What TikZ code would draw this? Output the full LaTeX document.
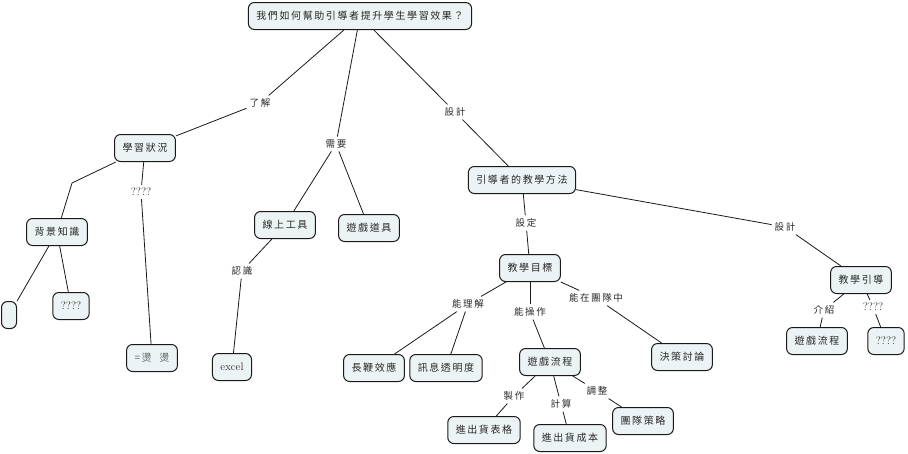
\documentclass[tikz,border=0pt]{standalone}
\usepackage{fontspec}
\usepackage{xcolor}
\newfontfamily\cjk[LetterSpace=16]{Noto Sans CJK TC}
\definecolor{cmapfill}{RGB}{236,243,245}
\definecolor{cmapline}{RGB}{25,25,25}
\definecolor{cmaptext}{RGB}{40,40,40}

\begin{document}
\begin{tikzpicture}[x=1pt,y=-1pt,
  concept/.style={draw=cmapline,fill=cmapfill,rounded corners=6pt,line width=1pt,
              minimum height=27pt,inner xsep=8pt,text=cmaptext,
              font=\cjk\fontsize{10}{12}\selectfont},
  latin/.style={font=\fontsize{11}{13}\selectfont},
  linkword/.style={inner sep=3pt,text=cmaptext,font=\cjk\fontsize{9.5}{11}\selectfont},
  link/.style={draw=cmapline,line width=0.8pt}]
  \useasboundingbox (0,0) rectangle (908,453);
  % concepts
  \node[concept](root) at (360,16){我們如何幫助引導者提升學生學習效果？};
  \node[concept](xxzk) at (145,148){學習狀況};
  \node[concept](bjzs) at (57,232){背景知識};
  \node[concept,minimum width=15pt,inner xsep=0pt](blank) at (9,315){};
  \node[concept,latin](bjq) at (71,306){????};
  \node[concept,text=gray!80!black](tang) at (152,358){=燙\ \ 燙};
  \node[concept](xsgj) at (285,225){線上工具};
  \node[concept](yxdj) at (369,228){遊戲道具};
  \node[concept,latin](excel) at (232,367){excel};
  \node[concept](jxff) at (522,180){引導者的教學方法};
  \node[concept](jxmb) at (530,268){教學目標};
  \node[concept](cbxy) at (374,368){長鞭效應};
  \node[concept](xxtm) at (446,368){訊息透明度};
  \node[concept](yxlc) at (550,362){遊戲流程};
  \node[concept](jctl) at (682,357){決策討論};
  \node[concept](bg) at (484,430){進出貨表格};
  \node[concept](cb) at (570,438){進出貨成本};
  \node[concept](tdcl) at (643,421){團隊策略};
  \node[concept](jxyd) at (861,280){教學引導};
  \node[concept](yxlc2) at (817,341){遊戲流程};
  \node[concept,latin](ydq) at (886,341){????};
  % linking phrases
  \node[linkword](ljie) at (260,103){了解};
  \node[linkword](xuyao) at (336,144){需要};
  \node[linkword](sheji) at (455,112){設計};
  \node[linkword,latin](xxq) at (141,192){????};
  \coordinate (bend) at (72,183);
  \node[linkword](renshi) at (242,271){認識};
  \node[linkword](sheding) at (526,223){設定};
  \node[linkword](sheji2) at (785,227){設計};
  \node[linkword](nlj) at (468,304){能理解};
  \node[linkword](nczu) at (530,312){能操作};
  \node[linkword](nztd) at (596,298){能在團隊中};
  \node[linkword](zhizuo) at (514,396){製作};
  \node[linkword](jisuan) at (561,404){計算};
  \node[linkword](tiaozh) at (597,391){調整};
  \node[linkword](jieshao) at (824,310){介紹};
  \node[linkword,latin](ydqq) at (873,307){????};
  % connectors
  \draw[link](root)--(ljie);
  \draw[link](ljie)--(xxzk);
  \draw[link](root)--(xuyao);
  \draw[link](xuyao)--(xsgj);
  \draw[link](xuyao)--(yxdj);
  \draw[link](root)--(sheji);
  \draw[link](sheji)--(jxff);
  \draw[link](xxzk)--(bend)--(bjzs);
  \draw[link](bjzs)--(blank);
  \draw[link](bjzs)--(bjq);
  \draw[link](xxzk)--(xxq);
  \draw[link](xxq)--(tang);
  \draw[link](xsgj)--(renshi);
  \draw[link](renshi)--(excel);
  \draw[link](jxff)--(sheding);
  \draw[link](sheding)--(jxmb);
  \draw[link](jxff)--(sheji2);
  \draw[link](sheji2)--(jxyd);
  \draw[link](jxmb)--(nlj);
  \draw[link](nlj)--(cbxy);
  \draw[link](nlj)--(xxtm);
  \draw[link](jxmb)--(nczu);
  \draw[link](nczu)--(yxlc);
  \draw[link](jxmb)--(nztd);
  \draw[link](nztd)--(jctl);
  \draw[link](yxlc)--(zhizuo);
  \draw[link](zhizuo)--(bg);
  \draw[link](yxlc)--(jisuan);
  \draw[link](jisuan)--(cb);
  \draw[link](yxlc)--(tiaozh);
  \draw[link](tiaozh)--(tdcl);
  \draw[link](jxyd)--(jieshao);
  \draw[link](jieshao)--(yxlc2);
  \draw[link](jxyd)--(ydqq);
  \draw[link](ydqq)--(ydq);
\end{tikzpicture}
\end{document}
